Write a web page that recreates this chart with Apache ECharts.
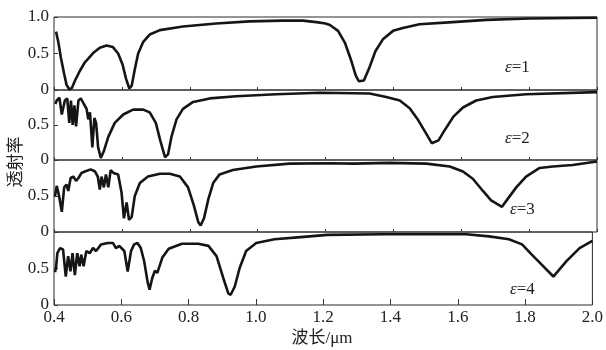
<!DOCTYPE html>
<html>
<head>
<meta charset="utf-8">
<script src="https://cdn.jsdelivr.net/npm/echarts@6.0.0/dist/echarts.min.js"></script>
<style>
  html, body { margin: 0; padding: 0; background: #fff; }
  #main { width: 606px; height: 350px; }
</style>
</head>
<body>
<div id="main"></div>
<script>
// 波长(μm), 透射率
const eps1 = [[0.406,0.80],[0.413,0.65],[0.42,0.45],[0.43,0.22],[0.437,0.07],[0.445,0.01],[0.453,0.03],[0.462,0.13],[0.476,0.26],[0.491,0.38],[0.516,0.51],[0.535,0.58],[0.555,0.61],[0.573,0.59],[0.589,0.50],[0.602,0.35],[0.612,0.16],[0.622,0.02],[0.629,0.06],[0.638,0.28],[0.648,0.50],[0.663,0.66],[0.682,0.76],[0.712,0.82],[0.78,0.87],[0.878,0.91],[0.976,0.94],[1.074,0.95],[1.133,0.95],[1.173,0.93],[1.2,0.91],[1.213,0.89],[1.237,0.81],[1.257,0.65],[1.276,0.40],[1.289,0.20],[1.298,0.12],[1.313,0.13],[1.328,0.29],[1.347,0.53],[1.37,0.70],[1.399,0.81],[1.428,0.85],[1.477,0.90],[1.575,0.93],[1.674,0.96],[1.8,0.98],[2.0,0.99]]
const eps2 = [[0.404,0.80],[0.408,0.85],[0.416,0.89],[0.423,0.65],[0.427,0.63],[0.432,0.85],[0.439,0.88],[0.445,0.53],[0.45,0.85],[0.455,0.50],[0.46,0.78],[0.465,0.48],[0.472,0.85],[0.479,0.88],[0.488,0.80],[0.496,0.73],[0.501,0.58],[0.506,0.68],[0.513,0.18],[0.519,0.60],[0.524,0.53],[0.53,0.18],[0.538,0.03],[0.547,0.13],[0.56,0.33],[0.579,0.53],[0.604,0.65],[0.633,0.72],[0.663,0.72],[0.682,0.68],[0.7,0.53],[0.713,0.28],[0.727,0.04],[0.736,0.08],[0.746,0.33],[0.761,0.58],[0.78,0.73],[0.81,0.83],[0.859,0.88],[0.937,0.91],[1.055,0.94],[1.183,0.96],[1.33,0.95],[1.379,0.90],[1.419,0.85],[1.448,0.74],[1.473,0.57],[1.495,0.39],[1.513,0.24],[1.533,0.28],[1.553,0.44],[1.577,0.62],[1.605,0.75],[1.644,0.85],[1.693,0.90],[1.791,0.94],[2.0,0.97]]
const eps3 = [[0.403,0.50],[0.408,0.64],[0.415,0.50],[0.423,0.28],[0.43,0.62],[0.437,0.66],[0.442,0.57],[0.449,0.75],[0.457,0.77],[0.465,0.71],[0.472,0.75],[0.481,0.82],[0.491,0.84],[0.508,0.87],[0.521,0.84],[0.529,0.77],[0.535,0.59],[0.54,0.77],[0.547,0.62],[0.553,0.80],[0.56,0.62],[0.567,0.86],[0.575,0.82],[0.589,0.80],[0.599,0.55],[0.606,0.19],[0.614,0.41],[0.621,0.17],[0.629,0.21],[0.638,0.50],[0.653,0.68],[0.677,0.77],[0.712,0.81],[0.741,0.81],[0.771,0.77],[0.795,0.62],[0.812,0.37],[0.825,0.14],[0.832,0.09],[0.842,0.19],[0.855,0.46],[0.869,0.68],[0.888,0.80],[0.927,0.86],[0.996,0.91],[1.094,0.95],[1.212,0.955],[1.281,0.95],[1.389,0.96],[1.497,0.95],[1.566,0.91],[1.605,0.84],[1.634,0.74],[1.664,0.57],[1.688,0.44],[1.72,0.35],[1.737,0.46],[1.762,0.62],[1.791,0.77],[1.831,0.89],[1.87,0.91],[1.928,0.93],[2.0,0.98]]
const eps4 = [[0.403,0.45],[0.406,0.51],[0.41,0.71],[0.418,0.78],[0.427,0.76],[0.435,0.39],[0.442,0.67],[0.449,0.46],[0.455,0.71],[0.462,0.41],[0.469,0.71],[0.476,0.53],[0.481,0.69],[0.488,0.53],[0.496,0.74],[0.506,0.71],[0.516,0.78],[0.525,0.74],[0.54,0.83],[0.56,0.85],[0.575,0.85],[0.584,0.78],[0.594,0.81],[0.609,0.74],[0.619,0.46],[0.629,0.74],[0.638,0.83],[0.648,0.85],[0.658,0.78],[0.668,0.60],[0.678,0.32],[0.684,0.21],[0.692,0.37],[0.7,0.47],[0.707,0.44],[0.722,0.65],[0.741,0.77],[0.78,0.84],[0.829,0.84],[0.859,0.81],[0.883,0.67],[0.903,0.37],[0.918,0.16],[0.925,0.14],[0.937,0.25],[0.952,0.51],[0.971,0.74],[1.001,0.85],[1.055,0.90],[1.133,0.93],[1.212,0.96],[1.379,0.97],[1.625,0.97],[1.693,0.94],[1.752,0.90],[1.791,0.83],[1.82,0.69],[1.85,0.55],[1.884,0.39],[1.923,0.60],[1.962,0.78],[2.0,0.88]]

const panels = [eps1, eps2, eps3, eps4]
const panelNames = ["ε=1", "ε=2", "ε=3", "ε=4"]

const serif = "Times New Roman"
const tops = [17, 90, 160, 232]
const heights = [73, 70, 72, 73]
const labelPos = [[505, 68], [505, 139], [510, 210], [510, 290]]

const myChart = echarts.init(document.getElementById("main"))

const grids = [], xAxes = [], yAxes = [], series = []
panels.forEach(function (data, i) {
  const last = i === panels.length - 1
  grids.push({
    left: 54, right: 9, top: tops[i], height: heights[i],
    show: true, borderColor: "#2a2a2a", borderWidth: 1
  })
  xAxes.push({
    type: "value", gridIndex: i, min: 0.4, max: 2.0, interval: 0.2,
    axisLine: { show: false },
    axisTick: { show: true, inside: true, length: last ? 6 : 3, lineStyle: { color: "#333" } },
    splitLine: { show: false },
    axisLabel: {
      show: last, color: "#222", fontFamily: serif, fontSize: 17, margin: 4,
      formatter: function (v) { return v.toFixed(1) }
    }
  })
  yAxes.push({
    type: "value", gridIndex: i, min: 0, max: 1, interval: 0.5,
    axisLine: { show: false },
    axisTick: { show: true, inside: true, length: 4, lineStyle: { color: "#333" } },
    splitLine: { show: false },
    axisLabel: {
      color: "#222", fontFamily: serif, fontSize: 17, margin: 5,
      formatter: function (v) {
        if (v === 1) return i === 0 ? "1.0" : ""
        if (v === 0.5) return "0.5"
        return "0"
      }
    }
  })
  series.push({
    type: "line", xAxisIndex: i, yAxisIndex: i, data: data,
    showSymbol: false, smooth: false, clip: false,
    lineStyle: { color: "#151515", width: 2.6 }
  })
})

const graphics = panelNames.map(function (name, i) {
  return {
    type: "text", x: labelPos[i][0], y: labelPos[i][1],
    style: {
      text: "{e|ε}{n|" + name.slice(1) + "}",
      verticalAlign: "middle",
      rich: {
        e: { fontFamily: serif, fontStyle: "italic", fontSize: 17, fill: "#222" },
        n: { fontFamily: serif, fontSize: 17, fill: "#222" }
      }
    }
  }
})
graphics.push({
  type: "text", x: 15, y: 162, rotation: Math.PI / 2,
  style: {
    text: "透射率", align: "center", verticalAlign: "middle",
    font: "17px Noto Sans CJK SC", fill: "#222"
  }
})
graphics.push({
  type: "text", x: 322, y: 339,
  style: {
    text: "波长/μm", align: "center", verticalAlign: "middle",
    font: "17px Times New Roman, Noto Sans CJK SC", fill: "#222"
  }
})

const option = {
  animation: false,
  backgroundColor: "#fff",
  grid: grids,
  xAxis: xAxes,
  yAxis: yAxes,
  series: series,
  graphic: graphics
}
myChart.setOption(option, true)
</script>
</body>
</html>
